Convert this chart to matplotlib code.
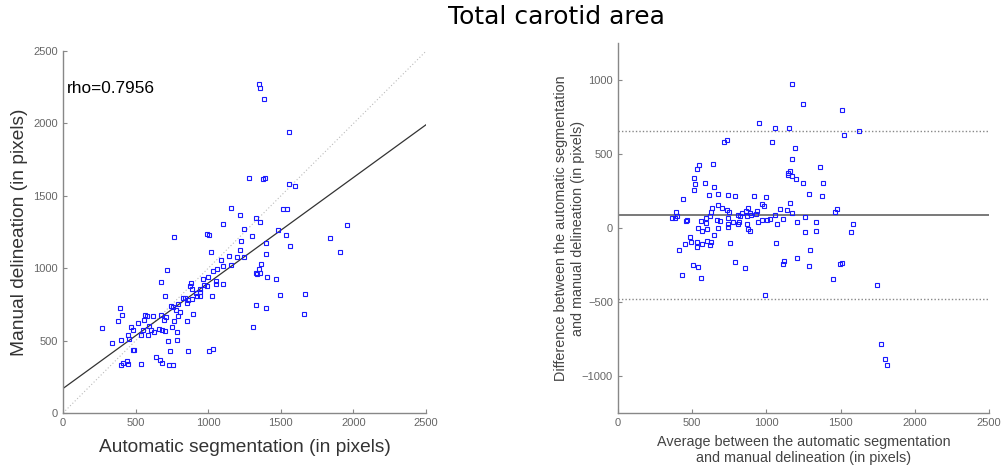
import numpy as np
import matplotlib
matplotlib.use("Agg")
import matplotlib.pyplot as plt

# Area of each carotid, in pixels: automatic segmentation vs manual delineation
auto_px = [1351, 1358, 1383, 1553, 1280, 1374, 1390, 1558, 1595, 1160,
           1517, 1540, 1222, 1326, 1358, 1103, 1953, 1248, 1482, 990,
           1004, 767, 1298, 1535, 1838, 1229, 1565, 1399, 1222, 1016,
           1909, 1399, 1142, 1199, 1248, 1089, 1365, 1156, 1103, 1057,
           1349, 719, 1034, 1326, 1356, 1333, 997, 1406, 1468, 963,
           1055, 676, 880, 1103, 1055, 876, 974, 993, 885, 944,
           940, 915, 924, 942, 705, 1023, 823, 841, 1491, 1666,
           864, 887, 851, 793, 747, 756, 391, 1330, 1397, 779,
           804, 409, 563, 581, 623, 676, 896, 1659, 793, 556,
           694, 712, 382, 767, 857, 517, 271, 466, 595, 749,
           1305, 485, 662, 685, 609, 554, 627, 699, 448, 538,
           588, 786, 397, 453, 784, 724, 340, 480, 492, 738,
           862, 1006, 1034, 641, 666, 441, 680, 416, 448, 398,
           535, 731, 756]
manual_px = [2274, 2242, 2166, 1938, 1621, 1614, 1625, 1584, 1570, 1418,
             1407, 1411, 1367, 1349, 1317, 1305, 1298, 1273, 1266, 1234,
             1229, 1218, 1225, 1229, 1211, 1185, 1153, 1172, 1123, 1114,
             1114, 1096, 1082, 1077, 1077, 1059, 1031, 1024, 1013, 994,
             994, 990, 978, 965, 967, 962, 942, 937, 925, 925,
             909, 905, 898, 893, 893, 879, 882, 879, 856, 856,
             836, 831, 806, 806, 806, 806, 797, 797, 815, 824,
             783, 785, 762, 753, 739, 730, 727, 748, 723, 711,
             695, 674, 677, 672, 672, 677, 681, 684, 672, 645,
             640, 663, 633, 633, 633, 622, 589, 594, 601, 596,
             596, 576, 582, 576, 573, 576, 562, 564, 541, 539,
             539, 557, 506, 513, 506, 500, 486, 433, 437, 430,
             426, 426, 442, 384, 368, 361, 343, 348, 341, 329,
             341, 331, 331]
rho_text = "rho=0.7956"

# Bland-Altman bias and limits of agreement
bias = 88
loa_upper = 658
loa_lower = -478

auto_arr = np.array(auto_px, dtype=float)
man_arr = np.array(manual_px, dtype=float)
avg_arr = (auto_arr + man_arr) / 2
diff_arr = auto_arr - man_arr

slope, intercept = np.polyfit(auto_arr, man_arr, 1)

plt.rcParams['font.family'] = ['Liberation Sans', 'DejaVu Sans']
grey = '#555555'
tick_grey = '#666666'

fig = plt.figure(figsize=(10.03, 4.67), dpi=100)
fig.suptitle("Total carotid area", x=0.555, y=0.99, fontsize=18,
             family='DejaVu Sans')

def style_axes(ax):
    for side in ('top', 'right'):
        ax.spines[side].set_visible(False)
    for side in ('left', 'bottom'):
        ax.spines[side].set_color('#888888')
        ax.spines[side].set_linewidth(1.0)
    ax.tick_params(direction='in', length=3, width=0.8, colors='#888888',
                   labelcolor=tick_grey, labelsize=8)

# scatter with regression line
ax1 = fig.add_axes([0.0628, 0.1156, 0.362, 0.775])
xs = np.array([0, 2500])
ax1.plot(xs, xs, ls=(0, (1, 2)), color='#bbbbbb', lw=0.8)
ax1.plot(xs, intercept + slope * xs, color='#333333', lw=0.9)
ax1.plot(auto_arr, man_arr, 's', ms=3.3, mfc='none', mec='#1a1aff', mew=0.8)
ax1.text(28, 2244, rho_text, fontsize=12.4, va='center', ha='left')
ax1.set_xlim(0, 2500)
ax1.set_ylim(0, 2500)
ax1.set_xticks(range(0, 2501, 500))
ax1.set_yticks(range(0, 2501, 500))
style_axes(ax1)
ax1.set_xlabel("Automatic segmentation (in pixels)", fontsize=13.8,
               color='#333333', labelpad=8)
ax1.set_ylabel("Manual delineation (in pixels)", fontsize=13.8,
               color='#333333', labelpad=4)

# Bland-Altman plot
ax2 = fig.add_axes([0.616, 0.1156, 0.370, 0.792])
ax2.axhline(bias, color=grey, lw=1.1)
ax2.axhline(loa_upper, color='#888888', lw=1.0, ls=(0, (1, 1.5)))
ax2.axhline(loa_lower, color='#888888', lw=1.0, ls=(0, (1, 1.5)))
ax2.plot(avg_arr, diff_arr, 's', ms=2.7, mfc='none', mec='#1a1aff', mew=0.8)
ax2.set_xlim(0, 2500)
ax2.set_ylim(-1250, 1250)
ax2.set_xticks(range(0, 2501, 500))
ax2.set_yticks(range(-1000, 1001, 500))
style_axes(ax2)
ax2.set_xlabel("Average between the automatic segmentation\n"
               "and manual delineation (in pixels)", fontsize=10.4,
               color='#444444', labelpad=5)
ax2.set_ylabel("Difference between the automatic segmentation\n"
               "and manual delineation (in pixels)", fontsize=10.4,
               color='#444444', labelpad=-2)

fig.savefig("out.png", dpi=100)
